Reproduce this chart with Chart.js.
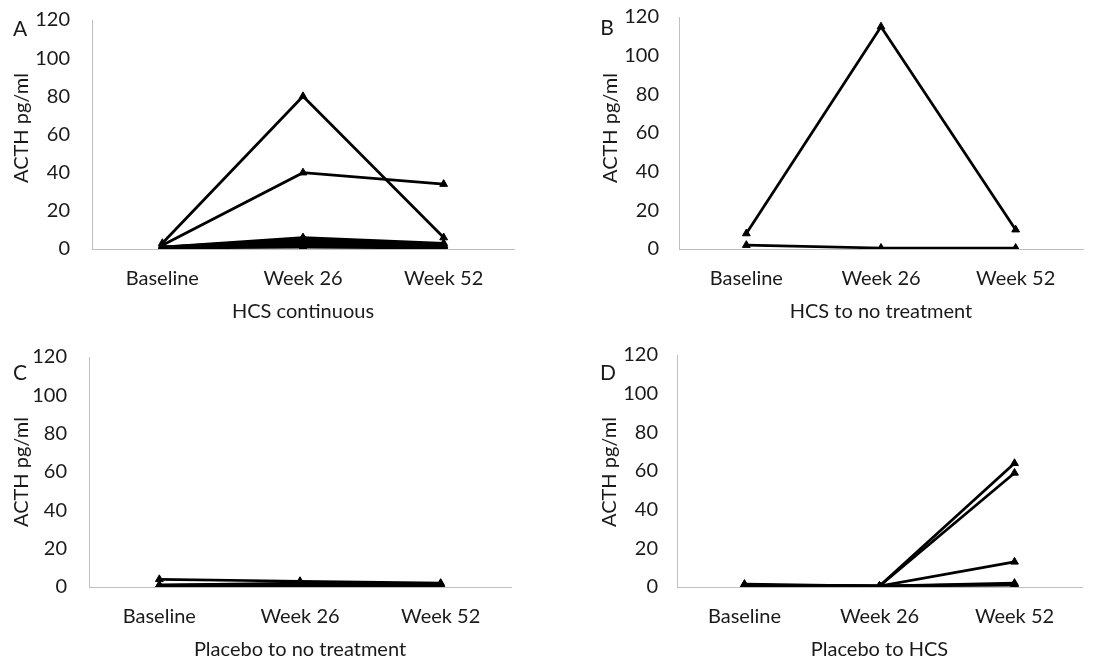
<!DOCTYPE html>
<html>
<head>
<meta charset="utf-8">
<script src="https://cdn.jsdelivr.net/npm/chart.js@4.4.1/dist/chart.umd.min.js"></script>
<style>
  html, body { margin: 0; padding: 0; background: #fff; }
  #page { position: relative; width: 1106px; height: 662px; overflow: hidden; }
  .panel { position: absolute; width: 553px; height: 331px; }
</style>
</head>
<body>
<div id="page">
  <div class="panel" style="left:0;top:0"><canvas id="chartA" width="553" height="331"></canvas></div>
  <div class="panel" style="left:553px;top:0"><canvas id="chartB" width="553" height="331"></canvas></div>
  <div class="panel" style="left:0;top:331px"><canvas id="chartC" width="553" height="331"></canvas></div>
  <div class="panel" style="left:553px;top:331px"><canvas id="chartD" width="553" height="331"></canvas></div>
</div>
<script>
const categories = ['Baseline', 'Week 26', 'Week 52'];
const yTicks = [0, 20, 40, 60, 80, 100, 120];
const yTitle = 'ACTH pg/ml';

// one row per patient: [Baseline, Week 26, Week 52]
const hcsContinuous = [
    [3, 80, 6],
    [2, 40, 34],
    [1, 6, 3],
    [1, 5, 2],
    [0.5, 4, 2],
    [1, 3, 1],
    [0.5, 2, 1],
    [0.5, 1, 0.5],
];
const hcsToNoTreatment = [
    [8, 115, 10],
    [2, 0.5, 0.5],
];
const placeboToNoTreatment = [
    [4, 3, 2],
    [1, 2, 1.5],
    [1, 1.5, 1],
    [0.5, 0.5, 0.5],
];
const placeboToHcs = [
    [1, 0.5, 64],
    [1, 0.5, 59],
    [1, 0.5, 13],
    [1.5, 0.5, 2],
    [1, 0.5, 1.5],
    [0.5, 0.5, 1],
];

const FONT = 'Lato, "Open Sans", sans-serif';
const TEXT = '#1a1a1a';
const AXIS = '#bfbfbf';

// panel letter and rotated y title, placed like the Excel original
const panelText = {
    id: 'panelText',
    afterDraw(chart, args, opts) {
        const ctx = chart.ctx;
        ctx.save();
        ctx.fillStyle = TEXT;
        ctx.textAlign = 'center';
        ctx.textBaseline = 'middle';
        ctx.font = '21px ' + FONT;
        ctx.fillText(opts.letter, opts.lx, opts.ly);
        ctx.translate(opts.tx, opts.ty);
        ctx.rotate(-Math.PI / 2);
        ctx.font = '20px ' + FONT;
        ctx.fillText(yTitle, 0, 0);
        ctx.restore();
    }
};

function makePanel(id, rows, cfg) {
    new Chart(document.getElementById(id), {
        type: 'line',
        data: {
            labels: categories,
            datasets: rows.map(r => ({
                data: r,
                borderColor: '#000',
                backgroundColor: '#000',
                borderWidth: 2.75,
                pointStyle: 'triangle',
                pointRadius: 4.5,
                pointBorderWidth: 1,
                tension: 0,
            })),
        },
        options: {
            responsive: false,
            animation: false,
            layout: { padding: { top: cfg.top, right: cfg.right, left: 0, bottom: 0 } },
            plugins: {
                legend: { display: false },
                tooltip: { enabled: false },
                panelText: cfg,
            },
            scales: {
                x: {
                    offset: true,
                    grid: { display: false, drawTicks: false },
                    border: { display: true, color: AXIS, width: 1 },
                    ticks: { padding: cfg.xPad, color: TEXT, font: { family: FONT, size: 20 } },
                    title: {
                        display: true, text: cfg.title, color: TEXT,
                        font: { family: FONT, size: 20 }, padding: { top: 0, bottom: cfg.tPad },
                    },
                    afterFit: s => {
                        s.height = cfg.xh;
                        s.paddingLeft = 0;
                        s.paddingRight = 0;
                    },
                },
                y: {
                    min: 0,
                    max: 120,
                    afterBuildTicks: s => { s.ticks = yTicks.map(v => ({ value: v })); },
                    grid: { display: false, drawTicks: false },
                    border: { display: true, color: AXIS, width: 1 },
                    ticks: { padding: cfg.yPad, color: TEXT, font: { family: FONT, size: 20 } },
                    afterFit: s => {
                        s.width = cfg.yw;
                        s.paddingTop = 0;
                        s.paddingBottom = 0;
                    },
                },
            },
        },
        plugins: [panelText],
    });
}

makePanel('chartA', hcsContinuous, {
    letter: 'A', lx: 20, ly: 29, tx: 22, ty: 128, title: 'HCS continuous',
    top: 20, right: 39, yw: 92, xh: 82, xPad: 18, tPad: 7, yPad: 22,
});
makePanel('chartB', hcsToNoTreatment, {
    letter: 'B', lx: 54, ly: 28, tx: 58, ty: 128, title: 'HCS to no treatment',
    top: 17, right: 23, yw: 126, xh: 82, xPad: 18, tPad: 7, yPad: 20,
});
makePanel('chartC', placeboToNoTreatment, {
    letter: 'C', lx: 20, ly: 42, tx: 22, ty: 141, title: 'Placebo to no treatment',
    top: 26, right: 42, yw: 89, xh: 75, xPad: 18, tPad: 0, yPad: 22,
});
makePanel('chartD', placeboToHcs, {
    letter: 'D', lx: 55, ly: 42, tx: 57, ty: 141, title: 'Placebo to HCS',
    top: 24, right: 24, yw: 124, xh: 75, xPad: 18, tPad: 0, yPad: 19,
});
</script>
</body>
</html>
